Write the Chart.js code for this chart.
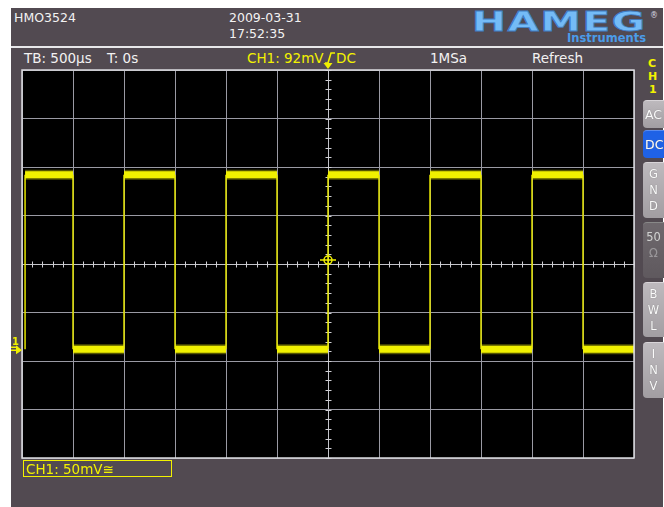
<!DOCTYPE html>
<html>
<head>
<meta charset="utf-8">
<script src="https://cdn.jsdelivr.net/npm/chart.js@4/dist/chart.umd.min.js"></script>
<style>
  body { margin: 0; background: #fff; }
  #wrap { position: relative; width: 664px; height: 507px; overflow: hidden; font-family: "DejaVu Sans", sans-serif; }
  .panel { position: absolute; left: 11px; top: 8px; width: 652px; height: 499px; background: #524a51; }
  .sep { position: absolute; left: 11px; top: 46px; width: 652px; height: 2px; background: #e8e8ea; }
  .t { position: absolute; white-space: nowrap; line-height: 1; color: #f2f2f2; }
  .yel { color: #f2f200; }
  .btn { position: absolute; left: 643px; width: 21px; border-radius: 4px 0 0 4px; background: linear-gradient(#bdb9bd, #a29ea2); color: #fafafa;
         font-size: 11.5px; line-height: 16px; text-align: center; text-shadow: 0 0 1px #777; box-sizing: border-box; border-top: 1px solid #d8d4d8; }
  canvas { position: absolute; left: 0; top: 0; }
</style>
</head>
<body>
<div id="wrap">
  <div class="panel"></div>
  <div class="sep"></div>

  <!-- en-tête -->
  <div class="t" style="left:14px;top:11.5px;font-size:12.5px">HMO3524</div>
  <div class="t" style="left:229px;top:11.5px;font-size:12.5px">2009-03-31</div>
  <div class="t" style="left:229px;top:28px;font-size:12.5px">17:52:35</div>

  <div class="t" style="left:472px;top:9px;font-size:26px;font-weight:bold;color:#74bbf7;-webkit-text-stroke:0.8px #3f7fc6;transform:scaleX(1.56);transform-origin:left top;letter-spacing:1px">HAMEG</div>
  <div class="t" style="left:650px;top:12px;font-size:8px;color:#d8d8e0">®</div>
  <div class="t" style="left:567px;top:33px;font-size:11.5px;font-weight:bold;color:#4b9ce9">Instruments</div>

  <!-- barre d'état -->
  <div class="t" style="left:24px;top:51.5px;font-size:13.5px">TB: 500µs</div>
  <div class="t" style="left:107px;top:51.5px;font-size:13.5px">T: 0s</div>
  <div class="t yel" style="left:247px;top:51.5px;font-size:13.5px">CH1: 92mV</div>
  <svg style="position:absolute;left:324px;top:52px" width="12" height="12"><path d="M1 11 H4 L7 1 H11" stroke="#f2f200" stroke-width="1.6" fill="none"/></svg>
  <div class="t yel" style="left:336px;top:51.5px;font-size:13.5px">DC</div>
  <div class="t" style="left:430px;top:51.5px;font-size:13.5px">1MSa</div>
  <div class="t" style="left:532px;top:51.5px;font-size:13.5px">Refresh</div>

  <!-- CH1 vertical -->
  <div class="t yel" style="left:648px;top:58px;font-size:11px;font-weight:bold">C</div>
  <div class="t yel" style="left:648px;top:71px;font-size:11px;font-weight:bold">H</div>
  <div class="t yel" style="left:649px;top:84px;font-size:11px;font-weight:bold">1</div>

  <canvas id="scope" width="664" height="507"></canvas>

  <!-- boutons -->
  <div class="btn" style="top:100px;height:28px;line-height:27px;text-align:left;padding-left:2px;font-size:12.5px">AC</div>
  <div class="btn" style="top:130px;height:28px;line-height:27px;text-align:left;padding-left:2px;font-size:12.5px;background:#1f62e6;border-top-color:#5a8cf0">DC</div>
  <div class="btn" style="top:162px;height:56px;padding-top:3px">G<br>N<br>D</div>
  <div class="btn" style="top:222px;height:56px;padding-top:6px;background:linear-gradient(#6e686d,#5f595e);color:#cfcfcf;border-top-color:#888">50<br><span style="color:#9a969a">Ω</span></div>
  <div class="btn" style="top:282px;height:55px;padding-top:3px">B<br>W<br>L</div>
  <div class="btn" style="top:342px;height:56px;padding-top:3px">I<br>N<br>V</div>

  <div style="position:absolute;left:23px;top:460px;width:149px;height:17px;border:1.5px solid #f2f200;box-sizing:border-box"></div>
  <div class="t yel" style="left:26px;top:462.5px;font-size:13.5px">CH1: 50mV≅</div>
</div>

<script>
// temps en ms (500 µs/div, 12 div), tension en mV (50 mV/div)
const timeGridMs = [-3, -2.5, -2, -1.5, -1, -0.5, 0, 0.5, 1, 1.5, 2, 2.5, 3]
const levelGridMv = [-112, -62, -12, 38, 88, 138, 188, 238, 288]

const traceTimeMs = [-2.97, -2.97, -2.5, -2.5, -2.0, -2.0, -1.5, -1.5, -1.0, -1.0, -0.5, -0.5,
                     0.0, 0.0, 0.5, 0.5, 1.0, 1.0, 1.5, 1.5, 2.0, 2.0, 2.5, 2.5, 3.0]
const traceMv = [0, 180, 180, 0, 0, 180, 180, 0, 0, 180, 180, 0,
                 0, 180, 180, 0, 0, 180, 180, 0, 0, 180, 180, 0, 0]

const triggerTimeMs = 0
const triggerLevelMv = 92
const groundMv = 0

const YELLOW = '#f0f000'

const tracePoints = traceTimeMs.map((t, i) => ({ x: t, y: traceMv[i] }))

const isEdge = ctx => ctx.p0.parsed.x === ctx.p1.parsed.x

// fond noir, réticule central, marqueurs
const scopePlugin = {
  id: 'scope',
  beforeDraw(chart) {
    const { ctx, chartArea: a } = chart
    ctx.save()
    ctx.fillStyle = '#000'
    ctx.fillRect(a.left, a.top, a.width, a.height)
    ctx.restore()
  },
  beforeDatasetsDraw(chart) {
    const { ctx } = chart
    const xs = chart.scales.x, ys = chart.scales.y
    const cx = Math.round(xs.getPixelForValue(0)) + 0.5
    const cy = Math.round(ys.getPixelForValue(88)) + 0.5
    ctx.save()
    ctx.strokeStyle = '#cfcfd4'
    ctx.lineWidth = 1
    ctx.beginPath()
    for (let t = -3; t <= 3.0001; t += 0.1) {
      const px = Math.round(xs.getPixelForValue(t)) + 0.5
      ctx.moveTo(px, cy - 3); ctx.lineTo(px, cy + 3)
    }
    for (let v = -112; v <= 288.001; v += 10) {
      const py = Math.round(ys.getPixelForValue(v)) + 0.5
      ctx.moveTo(cx - 3, py); ctx.lineTo(cx + 3, py)
    }
    ctx.stroke()
    ctx.restore()
  },
  afterDatasetsDraw(chart) {
    const { ctx, chartArea: a } = chart
    const xs = chart.scales.x, ys = chart.scales.y
    ctx.save()
    // cadre
    ctx.strokeStyle = '#dcdce0'
    ctx.lineWidth = 1.5
    ctx.strokeRect(a.left, a.top, a.width, a.height)

    // niveau de déclenchement
    const tx = xs.getPixelForValue(triggerTimeMs)
    const ty = ys.getPixelForValue(triggerLevelMv)
    ctx.strokeStyle = YELLOW
    ctx.lineWidth = 1.5
    ctx.beginPath()
    ctx.arc(tx, ty, 4, 0, Math.PI * 2)
    ctx.moveTo(tx - 8, ty); ctx.lineTo(tx + 8, ty)
    ctx.stroke()

    // position de déclenchement (triangle en haut)
    ctx.fillStyle = YELLOW
    ctx.beginPath()
    ctx.moveTo(tx - 4.5, a.top - 7)
    ctx.lineTo(tx + 4.5, a.top - 7)
    ctx.lineTo(tx, a.top - 1)
    ctx.closePath()
    ctx.fill()

    // repère de masse "1"
    const gy = ys.getPixelForValue(groundMv)
    ctx.font = 'bold 10px "DejaVu Sans"'
    ctx.fillText('1', 12, gy - 4)
    ctx.lineWidth = 1.5
    ctx.beginPath()
    ctx.moveTo(11, gy - 2); ctx.lineTo(18, gy - 2)
    ctx.moveTo(11, gy + 1); ctx.lineTo(17, gy + 1)
    ctx.stroke()
    ctx.beginPath()
    ctx.moveTo(16, gy - 4)
    ctx.lineTo(22, gy + 1)
    ctx.lineTo(16, gy + 5)
    ctx.closePath()
    ctx.fill()
    ctx.restore()
  }
}

new Chart(document.getElementById('scope'), {
  type: 'line',
  data: {
    datasets: [{
      // bruit autour des paliers (halo)
      label: 'CH1 bruit',
      data: tracePoints,
      borderColor: 'rgba(240,240,0,0.35)',
      borderWidth: 10,
      pointRadius: 0,
      tension: 0,
      segment: {
        borderWidth: ctx => isEdge(ctx) ? 0 : 10,
        borderColor: ctx => isEdge(ctx) ? 'rgba(0,0,0,0)' : 'rgba(240,240,0,0.35)'
      }
    }, {
      label: 'CH1',
      data: tracePoints,
      borderColor: YELLOW,
      borderWidth: 1.5,
      pointRadius: 0,
      tension: 0,
      segment: {
        borderWidth: ctx => isEdge(ctx) ? 1.5 : 7,
        borderColor: ctx => isEdge(ctx) ? '#e4e400' : YELLOW
      }
    }]
  },
  options: {
    responsive: false,
    animation: false,
    events: [],
    layout: { padding: { left: 22, top: 70, right: 30, bottom: 49 } },
    plugins: { legend: { display: false }, tooltip: { enabled: false } },
    scales: {
      x: {
        type: 'linear', min: -3, max: 3,
        afterBuildTicks: s => { s.ticks = timeGridMs.map(v => ({ value: v })) },
        ticks: { display: false },
        border: { display: false },
        grid: { drawTicks: false, lineWidth: 1, color: c => c.tick && c.tick.value === 0 ? '#c4c4ca' : '#9a9aa4' }
      },
      y: {
        type: 'linear', min: -112, max: 288,
        afterBuildTicks: s => { s.ticks = levelGridMv.map(v => ({ value: v })) },
        ticks: { display: false },
        border: { display: false },
        grid: { drawTicks: false, lineWidth: 1, color: c => c.tick && c.tick.value === 88 ? '#c4c4ca' : '#9a9aa4' }
      }
    }
  },
  plugins: [scopePlugin]
})
</script>
</body>
</html>
